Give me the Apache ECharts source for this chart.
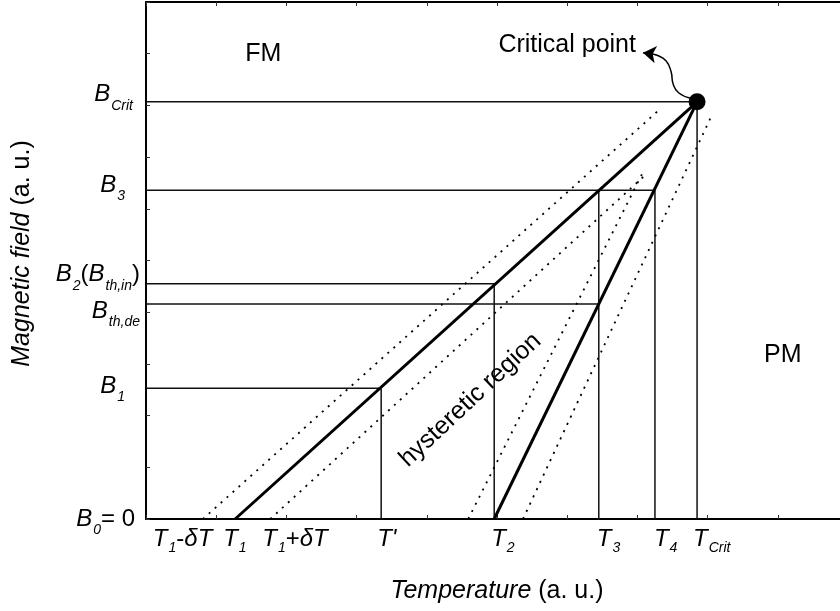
<!DOCTYPE html>
<html><head><meta charset="utf-8">
<script src="https://cdn.jsdelivr.net/npm/echarts@6/dist/echarts.min.js"></script>
<style>html,body{margin:0;padding:0;background:#fff}#c{width:840px;height:611px}</style>
</head><body><div id="c"></div>
<script>
// ---------- data (axis units: a. u.) ----------
const tempTickNames  = ['T_{1}-δT', 'T_{1}', 'T_{1}+δT', "T'", 'T_{2}', 'T_{3}', 'T_{4}', 'T_{Crit}'];
const tempTickValues = [0.81, 1.27, 1.77, 3.35, 4.96, 6.45, 7.25, 7.85];
const fieldTickNames  = ['B_{0}= 0', 'B_{1}', 'B_{th,de}', 'B_{2}(B_{th,in})', 'B_{3}', 'B_{Crit}'];
const fieldTickValues = [0, 2.53, 4.16, 4.55, 6.36, 8.07];

const criticalPoint = [7.85, 8.07];
const increasingBoundary = [[1.27, 0], [7.85, 8.07]];
const decreasingBoundary = [[4.96, 0], [7.85, 8.07]];
const spreadLineA = [[0.81, 0], [7.34, 7.95]];
const spreadLineB = [[1.77, 0], [7.11, 6.65]];
const spreadLineC = [[4.59, 0], [7.08, 6.71]];
const spreadLineD = [[5.37, 0], [8.06, 7.81]];

// corners [T, B] of the guide lines
const horizontalGuideEnds = [[3.35, 2.53], [6.45, 4.16], [4.96, 4.55], [7.25, 6.36], [7.85, 8.07]];
const verticalGuideEnds   = [[3.35, 2.53], [4.96, 4.55], [6.45, 6.36], [7.25, 6.36], [7.85, 8.07]];

const regionNames  = ['FM', 'PM', 'Critical point'];
const regionPoints = [[1.67, 8.99], [9.07, 3.17], [6.0, 9.17]];
const hystereticName  = 'hysteretic region';
const hystereticPoint = [4.62, 2.30];

const arrowCurve = [[7.76, 8.14], [7.59, 8.24], [7.51, 8.41], [7.48, 8.65], [7.41, 8.86], [7.28, 8.97], [7.18, 9.0]];
const arrowHead  = [[7.18, 9.0], [7.08, 9.02]];

// ---------- styling ----------
const FONT = 'Liberation Sans, Arial, sans-serif';
const tempLabelOffsets  = [[-50, 20], [-12, 20], [-8, 20], [-4, 20], [-3, 20], [-2, 20], [-1, 20], [-4, 20]];
const fieldLabelOffsets = [[-11, 0], [-21, -2], [-6, 7], [-6, -9], [-21, -5], [-13, -7]];

function toRich(name, subKey) {
  let out = '';
  const re = /_\{([^}]*)\}|([A-Za-zδ']+)|([^A-Za-zδ'_]+)/g;
  let m;
  while ((m = re.exec(name)) !== null) {
    if (m[1] !== undefined) out += '{' + subKey + '|' + m[1] + '}';
    else if (m[2] !== undefined) out += '{i|' + m[2] + '}';
    else out += '{n|' + m[3] + '}';
  }
  return out;
}
const baseText = { fontFamily: FONT, color: '#000', textBorderWidth: 0, textShadowBlur: 0, opacity: 1 };
const richStyles = {
  i: Object.assign({}, baseText, { fontStyle: 'italic', fontSize: 24 }),
  n: Object.assign({}, baseText, { fontSize: 24 }),
  s: Object.assign({}, baseText, { fontStyle: 'italic', fontSize: 14, padding: [22, 0, 0, 1] }),
  t: Object.assign({}, baseText, { fontStyle: 'italic', fontSize: 14, padding: [18, 0, 0, 1] })
};

function segment(a, b, style, z) {
  return { type: 'line', data: [a, b], symbol: 'none', silent: true, z: z || 2,
           lineStyle: style, clip: false };
}

const series = [];
horizontalGuideEnds.forEach(p => series.push(segment([0, p[1]], p, { color: '#111', width: 1.5 })));
verticalGuideEnds.forEach(p => series.push(segment([p[0], 0], p, { color: '#111', width: 1.5 })));
[spreadLineA, spreadLineB, spreadLineC, spreadLineD].forEach(l =>
  series.push(segment(l[0], l[1], { color: '#000', width: 1.8, type: [2, 6], cap: 'butt' })));
series.push(segment(increasingBoundary[0], increasingBoundary[1], { color: '#000', width: 3 }, 4));
series.push(segment(decreasingBoundary[0], decreasingBoundary[1], { color: '#000', width: 3 }, 4));

// critical point
series.push({ type: 'scatter', data: [criticalPoint], symbolSize: 17, itemStyle: { color: '#000', opacity: 1 }, z: 6, silent: true });

// arrow to the label
series.push({ type: 'line', data: arrowCurve, smooth: 0.5, symbol: 'none', silent: true, z: 5,
  lineStyle: { color: '#000', width: 1.5 } });
series.push({ type: 'lines', coordinateSystem: 'cartesian2d', silent: true, z: 5,
  symbol: ['none', 'arrow'], symbolSize: [0, 13],
  lineStyle: { color: '#000', width: 1.5, opacity: 1, curveness: 0 },
  data: [{ coords: arrowHead }] });

const hiddenDot = { symbolSize: 0, itemStyle: { color: '#000', opacity: 1 }, silent: true, clip: false, z: 7 };

// temperature tick labels
series.push(Object.assign({ type: 'scatter' }, hiddenDot, {
  data: tempTickValues.map((v, k) => ({ value: [v, 0], label: Object.assign({}, baseText, {
    show: true, position: 'inside', align: 'left', verticalAlign: 'middle',
    offset: tempLabelOffsets[k], formatter: toRich(tempTickNames[k], 't'), rich: richStyles }) })) }));

// field tick labels
series.push(Object.assign({ type: 'scatter' }, hiddenDot, {
  data: fieldTickValues.map((v, k) => ({ value: [0, v], label: Object.assign({}, baseText, {
    show: true, position: 'inside', align: 'right', verticalAlign: 'middle',
    offset: fieldLabelOffsets[k], formatter: toRich(fieldTickNames[k], 's'), rich: richStyles }) })) }));

// region labels
series.push(Object.assign({ type: 'scatter' }, hiddenDot, {
  data: regionPoints.map((p, k) => ({ value: p, label: Object.assign({}, baseText, {
    show: true, position: 'inside', align: 'center', verticalAlign: 'middle',
    formatter: regionNames[k], fontSize: 25 }) })) }));
series.push(Object.assign({ type: 'scatter' }, hiddenDot, {
  data: [{ value: hystereticPoint, label: Object.assign({}, baseText, {
    show: true, position: 'inside', align: 'center', verticalAlign: 'middle', rotate: 43,
    formatter: hystereticName, fontSize: 25 }) }] }));

const axisCommon = {
  type: 'value', min: 0, max: 10, interval: 1,
  axisLine: { show: true, onZero: false, lineStyle: { color: '#000', width: 2 } },
  axisTick: { show: true, inside: true, length: 4, lineStyle: { color: '#333', width: 1 } },
  axisLabel: { show: false }, splitLine: { show: false }
};

const chart = echarts.init(document.getElementById('c'), null, { renderer: 'canvas' });
chart.setOption({
  animation: false,
  backgroundColor: '#fff',
  grid: { left: 146, top: 2, width: 702, height: 517, outerBoundsMode: 'none', containLabel: false },
  xAxis: [
    Object.assign({}, axisCommon, { position: 'bottom',
      name: '{i|Temperature} (a. u.)', nameLocation: 'middle', nameGap: 60,
      nameTextStyle: { fontFamily: FONT, fontSize: 25, color: '#000',
        rich: { i: { fontFamily: FONT, fontStyle: 'italic', fontSize: 25, color: '#000' } } } }),
    Object.assign({}, axisCommon, { position: 'top' })
  ],
  yAxis: [
    Object.assign({}, axisCommon, { position: 'left',
      name: '{i|Magnetic field} (a. u.)', nameLocation: 'middle', nameGap: 111, nameRotate: 90,
      nameTextStyle: { fontFamily: FONT, fontSize: 25, color: '#000', padding: [0, 0, 0, 14],
        rich: { i: { fontFamily: FONT, fontStyle: 'italic', fontSize: 25, color: '#000' } } } })
  ],
  series: series
});
</script></body></html>
